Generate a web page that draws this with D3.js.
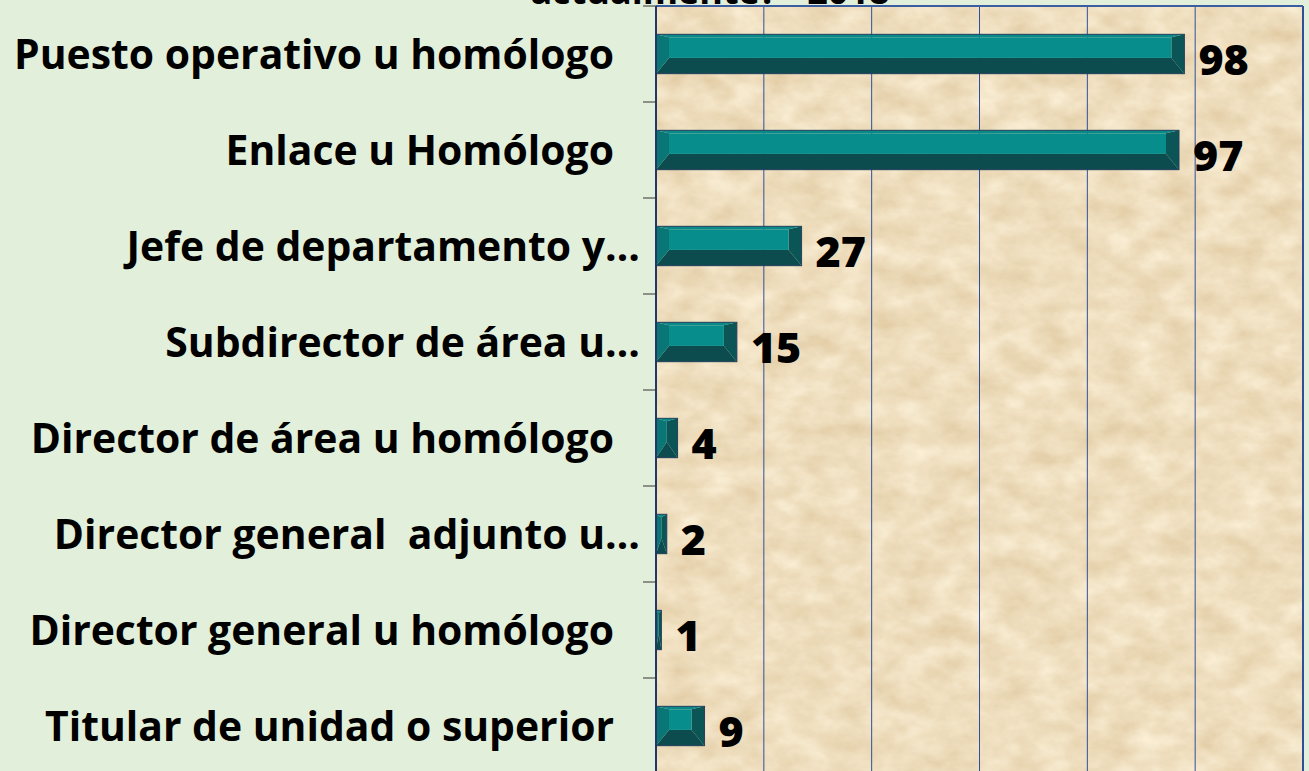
<!DOCTYPE html>
<html>
<head>
<meta charset="utf-8">
<script src="https://cdn.jsdelivr.net/npm/d3@7"></script>
<style>
  body { margin: 0; background: #e2efda; }
  svg { display: block; }
  text { font-family: "Open Sans", "Lato", sans-serif; font-weight: 700; fill: #000; }
</style>
</head>
<body>
<div class="chart"></div>
<script>
// Chart data, top to bottom
var categories = [
  "Puesto operativo u homólogo",
  "Enlace u Homólogo",
  "Jefe de departamento y…",
  "Subdirector de área u…",
  "Director de área u homólogo",
  "Director general  adjunto u…",
  "Director general u homólogo",
  "Titular de unidad o superior"
];
var values = [98, 97, 27, 15, 4, 2, 1, 9];
var xTicks = [0, 20, 40, 60, 80, 100, 120];
var titleText = "actualmente? - 2018";

// SVG size
var svgWidth = 1309;
var svgHeight = 771;

// Plot area
var plot = { left: 656, right: 1303, top: 6, bottom: 774 };

var svg = d3.select(".chart")
  .append("svg")
  .attr("width", svgWidth)
  .attr("height", svgHeight);

// parchment texture for the plot area
var defs = svg.append("defs");
var filter = defs.append("filter")
  .attr("id", "paper")
  .attr("color-interpolation-filters", "sRGB")
  .attr("x", 0).attr("y", 0).attr("width", 1).attr("height", 1);
filter.append("feTurbulence")
  .attr("type", "fractalNoise")
  .attr("baseFrequency", "0.03 0.045")
  .attr("numOctaves", 4)
  .attr("seed", 7);
filter.append("feColorMatrix")
  .attr("type", "matrix")
  .attr("values",
    "0.12 0 0 0 0.875 " +
    "0.17 0 0 0 0.785 " +
    "0.24 0 0 0 0.625 " +
    "0 0 0 0 1");

svg.append("rect")
  .attr("width", svgWidth)
  .attr("height", svgHeight)
  .attr("fill", "#e2efda");

svg.append("rect")
  .attr("x", plot.left)
  .attr("y", plot.top)
  .attr("width", plot.right - plot.left)
  .attr("height", plot.bottom - plot.top)
  .attr("filter", "url(#paper)");

// scales
var xScale = d3.scaleLinear()
  .domain([xTicks[0], xTicks[xTicks.length - 1]])
  .range([plot.left, plot.right]);

var yScale = d3.scaleBand()
  .domain(categories)
  .range([plot.top, plot.bottom])
  .paddingInner(0.59)
  .paddingOuter(0.295);

// gridlines
svg.append("g")
  .selectAll("line")
  .data(xTicks.slice(1))
  .enter()
  .append("line")
  .attr("x1", function(d) { return xScale(d); })
  .attr("x2", function(d) { return xScale(d); })
  .attr("y1", plot.top)
  .attr("y2", plot.bottom)
  .attr("stroke", "#2f4f9c")
  .attr("stroke-width", function(d, i) { return i === xTicks.length - 2 ? 2 : 1; });

// top border
svg.append("line")
  .attr("x1", plot.left).attr("x2", plot.right)
  .attr("y1", plot.top).attr("y2", plot.top)
  .attr("stroke", "#3b5ea3")
  .attr("stroke-width", 2);

// bars with a bevel look
var h = yScale.bandwidth();
var bars = svg.append("g")
  .selectAll("g")
  .data(values)
  .enter()
  .append("g");

function pts(arr) {
  return arr.map(function(p) { return p[0] + "," + p[1]; }).join(" ");
}

bars.each(function(v, i) {
  var g = d3.select(this);
  var x0 = xScale(0), x1 = xScale(v);
  var y0 = yScale(categories[i]), y1 = y0 + h;
  var ym = y0 + h * 0.6;
  var t = 3;
  var b = Math.min(13, (x1 - x0) / 2);

  g.append("polygon") // bottom
    .attr("points", pts([[x0, y1], [x1, y1], [x1 - b, ym], [x0 + b, ym]]))
    .attr("fill", "#0d4c4e");
  g.append("polygon") // right
    .attr("points", pts([[x1, y0], [x1, y1], [x1 - b, ym], [x1 - b, y0 + t]]))
    .attr("fill", "#0b5556");
  g.append("polygon") // left
    .attr("points", pts([[x0, y0], [x0 + b, y0 + t], [x0 + b, ym], [x0, y1]]))
    .attr("fill", "#0a7676");
  g.append("polygon") // top
    .attr("points", pts([[x0, y0], [x1, y0], [x1 - b, y0 + t], [x0 + b, y0 + t]]))
    .attr("fill", "#0a8989");
  g.append("rect") // face
    .attr("x", x0 + b)
    .attr("y", y0 + t)
    .attr("width", Math.max(0, x1 - x0 - 2 * b))
    .attr("height", ym - y0 - t)
    .attr("fill", "#088d8d");
  g.append("rect") // outline
    .attr("x", x0)
    .attr("y", y0)
    .attr("width", x1 - x0)
    .attr("height", h)
    .attr("fill", "none")
    .attr("stroke", "#24405e")
    .attr("stroke-width", 1);
});

// value labels
svg.append("g")
  .selectAll("text")
  .data(values)
  .enter()
  .append("text")
  .attr("x", function(d) { return xScale(d) + 14; })
  .attr("y", function(d, i) { return yScale(categories[i]) + h / 2 + 20.5; })
  .style("font-size", "43px")
  .style("font-weight", 800)
  .text(function(d) { return d; });

// y axis line + ticks at band edges
svg.append("line")
  .attr("x1", plot.left).attr("x2", plot.left)
  .attr("y1", plot.top).attr("y2", plot.bottom)
  .attr("stroke", "#1f3864")
  .attr("stroke-width", 2);

var step = yScale.step();
svg.append("g")
  .selectAll("line")
  .data(d3.range(categories.length + 1))
  .enter()
  .append("line")
  .attr("x1", plot.left - 13)
  .attr("x2", plot.left)
  .attr("y1", function(d) { return plot.top + d * step; })
  .attr("y2", function(d) { return plot.top + d * step; })
  .attr("stroke", "#333")
  .attr("stroke-width", 1);

// category labels, sized so the longest full label spans ~600px
var labels = svg.append("g")
  .selectAll("text")
  .data(categories)
  .enter()
  .append("text")
  .attr("text-anchor", "end")
  .attr("xml:space", "preserve")
  .style("font-size", "100px")
  .text(function(d) { return d; });

var w0 = labels.nodes()[0].getComputedTextLength();
var labelSize = 100 * 600 / w0;

labels
  .style("font-size", labelSize + "px")
  .attr("x", function(d) { return d.slice(-1) === "…" ? 640 : 614; })
  .attr("y", function(d) { return yScale(d) + h / 2 + labelSize * 0.36; });

// chart title, mostly cut off by the top edge as in the source image
svg.append("text")
  .attr("x", 710)
  .attr("y", 4)
  .attr("text-anchor", "middle")
  .style("font-size", "36px")
  .text(titleText);
</script>
</body>
</html>
